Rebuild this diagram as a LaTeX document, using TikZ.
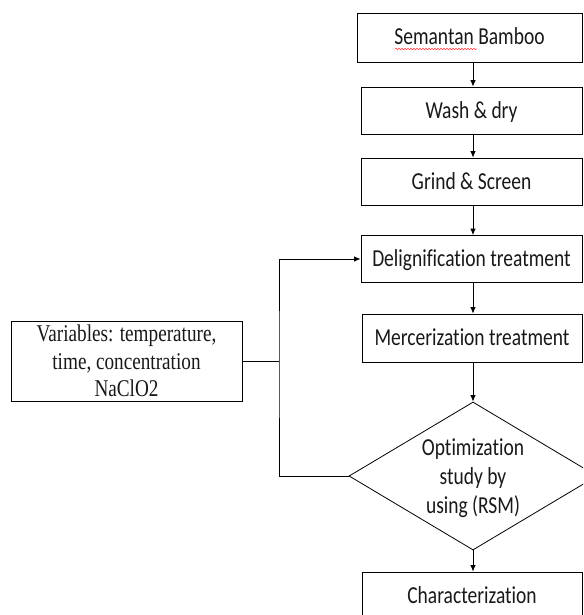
\documentclass[tikz,border=0pt]{standalone}
\usepackage{graphicx}
\usepackage{fontspec}
\setmainfont{Liberation Serif}
\newfontfamily\carlito[Ligatures=NoCommon]{Carlito}
\newcommand\tallbox[1]{\scalebox{1}[1.25]{#1}}
\usetikzlibrary{arrows.meta,shapes.geometric,decorations.pathmorphing}
\begin{document}
\begin{tikzpicture}[x=1pt,y=-1pt,
  stepbox/.style={draw=black,line width=0.8pt,fill=white,inner sep=0pt,
    text height=15pt,text depth=0pt,
    minimum width=221pt,minimum height=47pt,font=\carlito\fontsize{19.5}{23}\selectfont,text=black!90},
  varbox/.style={draw=black,line width=0.8pt,inner sep=0pt,
    minimum width=231pt,minimum height=80pt,font=\fontsize{19.2}{22.2}\selectfont,text=black!90},
  decbox/.style={draw=black,line width=0.8pt,diamond,inner sep=0pt,
    minimum width=248pt,minimum height=148pt,font=\carlito\fontsize{19.5}{23.1}\selectfont,text=black!90},
  arr/.style={draw=black,line width=0.8pt,-{Latex[length=6.5pt,width=5.5pt]}},
  ln/.style={draw=black,line width=0.8pt}]
\useasboundingbox (0,0) rectangle (583,615);
\clip (0,0) rectangle (583,615);
\fill[white] (0,0) rectangle (583,615);
\coordinate (col) at (473,0);
\node[stepbox,minimum width=225pt,minimum height=49pt] (sb) at (469.5,37.5) {\tallbox{Semantan Bamboo}};
\draw[red!80,line width=0.5pt,decorate,decoration={snake,amplitude=0.8pt,segment length=3pt}] (395,49) -- (477,49);
\node[stepbox] (wd) at (471.5,110.5) {\tallbox{Wash \& dry}};
\node[stepbox] (gs) at (471.5,181.5) {\tallbox{Grind \& Screen}};
\node[stepbox] (dt) at (471.5,259) {\tallbox{Delignification treatment}};
\node[stepbox,minimum width=220pt,minimum height=48pt] (mt) at (472,338) {\tallbox{Mercerization treatment}};
\node[decbox] (dg) at (473,476) {\raisebox{-9.5pt}[0pt][0pt]{\tallbox{\begin{tabular}{@{}c@{}}Optimization\\study by\\using (RSM)\end{tabular}}}};
\node[stepbox,minimum width=220pt,minimum height=48pt] (ch) at (472,596) {\tallbox{Characterization}};
\node[varbox] (var) at (126.5,361) {\raisebox{-9pt}[0pt][0pt]{\tallbox{\begin{tabular}{@{}c@{}}Variables: temperature,\\time, concentration\\NaClO2\end{tabular}}}};
\coordinate (j) at (279,361);
\draw[arr] (sb.south -| col) -- (wd.north -| col);
\draw[arr] (wd.south -| col) -- (gs.north -| col);
\draw[arr] (gs.south -| col) -- (dt.north -| col);
\draw[arr] (dt.south -| col) -- (mt.north -| col);
\draw[arr] (mt.south -| col) -- (dg.north);
\draw[arr] (dg.south) -- (ch.north -| col);
\draw[ln] (var.east) -- (j);
\draw[arr] (dg.west) -| (j) |- (dt.west);
\end{tikzpicture}
\end{document}
